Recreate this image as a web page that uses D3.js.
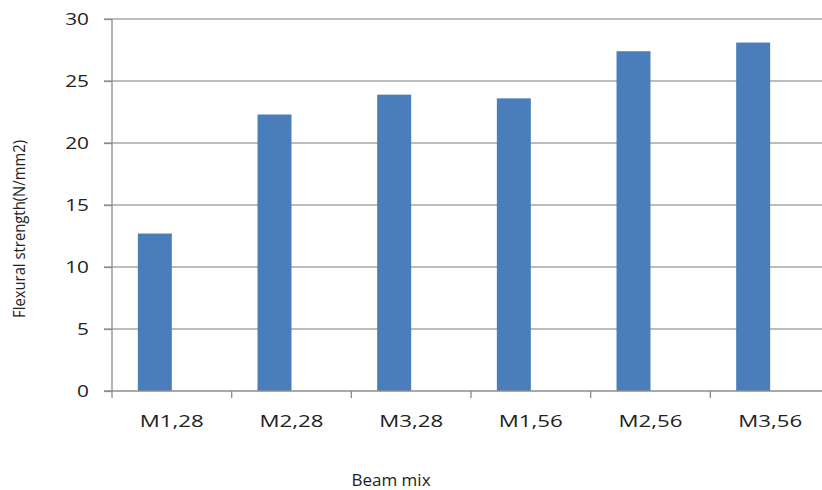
<!DOCTYPE html>
<html><head><meta charset="utf-8">
<script src="https://cdn.jsdelivr.net/npm/d3@7"></script>
<style>body{margin:0;background:#fff;}svg{display:block;}</style>
</head><body>
<svg id="c" width="822" height="490"></svg>
<script>
const categories = ["M1,28","M2,28","M3,28","M1,56","M2,56","M3,56"];
const values = [12.7, 22.3, 23.9, 23.6, 27.4, 28.1];
const yTicks = [0,5,10,15,20,25,30];
const yTitle = "Flexural strength(N/mm2)";
const xTitle = "Beam mix";

(function () {
const svg = d3.select("#c");
const pLeft = 112, pRight = 830, pTop = 19, pBottom = 391;
const font = "'Open Sans', sans-serif";
const x = d3.scaleBand().domain(categories).range([pLeft, pRight]);
const y = d3.scaleLinear().domain([0, 30]).range([pBottom, pTop]);
const barW = x.bandwidth() * 0.284;

// gridlines
svg.append("g").selectAll("line").data(yTicks.filter(d => d > 0)).join("line")
  .attr("x1", pLeft - 8).attr("x2", 822)
  .attr("y1", d => y(d)).attr("y2", d => y(d))
  .attr("stroke", "#a6a6a6").attr("stroke-width", 1.3);

// bars
svg.append("g").selectAll("rect").data(values).join("rect")
  .attr("x", (d, i) => x(categories[i]) + x.bandwidth() / 2 - barW)
  .attr("width", barW)
  .attr("y", d => y(d)).attr("height", d => y(0) - y(d))
  .attr("fill", "#4a7ebb");

// y axis
const ya = svg.append("g").attr("transform", `translate(${pLeft},0)`)
  .call(d3.axisLeft(y).tickValues(yTicks).tickSize(8));
ya.select(".domain").attr("stroke", "#8c8c8c").attr("stroke-width", 1.3).attr("d", `M0,${pTop}V${pBottom}`);
ya.selectAll(".tick line").attr("stroke", "#8c8c8c").attr("stroke-width", 1.3);
ya.selectAll("text").attr("x", 0).attr("transform", "translate(-23,0) scale(1.3,1)")
  .attr("font-family", font).attr("font-size", 16).attr("fill", "#222");

// x axis
const xa = svg.append("g").attr("transform", `translate(0,${pBottom})`)
  .call(d3.axisBottom(x).tickSize(0).tickPadding(0));
xa.select(".domain").attr("stroke", "#8c8c8c").attr("stroke-width", 1.3).attr("d", `M${pLeft - 8},0H822`);
xa.selectAll("text").attr("y", 0).attr("dy", null).attr("transform", "translate(0,36) scale(1.35,1)")
  .attr("font-family", font).attr("font-size", 16.5).attr("fill", "#222");
// category separators
svg.append("g").selectAll("line").data(categories.slice(1)).join("line")
  .attr("x1", d => x(d)).attr("x2", d => x(d))
  .attr("y1", pBottom).attr("y2", pBottom + 7)
  .attr("stroke", "#8c8c8c").attr("stroke-width", 1.3);
svg.append("line").attr("x1", pLeft).attr("x2", pLeft).attr("y1", pBottom).attr("y2", pBottom + 7)
  .attr("stroke", "#8c8c8c").attr("stroke-width", 1.3);

// titles
svg.append("text").attr("x", 391).attr("y", 486).attr("text-anchor", "middle")
  .attr("font-family", font).attr("font-size", 17).attr("fill", "#222").text(xTitle);
svg.append("text").attr("transform", "translate(25,229) rotate(-90)").attr("text-anchor", "middle")
  .attr("font-family", font).attr("font-size", 17).attr("fill", "#222")
  .attr("textLength", 178).attr("lengthAdjust", "spacingAndGlyphs").text(yTitle);
})();
</script>
</body></html>
